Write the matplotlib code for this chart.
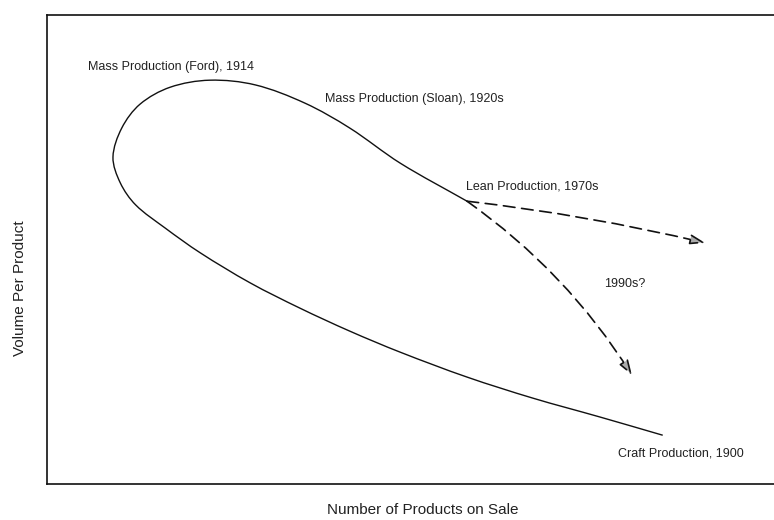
import matplotlib
matplotlib.use("Agg")
import matplotlib.pyplot as plt
import numpy as np
from matplotlib.path import Path
from matplotlib.patches import PathPatch

# curve, from craft production (1900) round to lean production (1970s)
curve_x = [84.0, 75.4, 66.3, 57.3, 48.2, 41.3, 34.5, 27.7, 20.9, 16.1, 12.1,
           10.0, 9.0, 10.2, 12.7, 16.8, 22.2, 28.4, 35.2, 41.3, 48.2, 57.3]
curve_y = [10.4, 14.3, 18.3, 22.8, 28.1, 32.6, 37.5, 42.9, 49.3, 54.6, 59.5,
           64.2, 69.7, 75.9, 81.0, 84.6, 86.1, 85.1, 81.2, 75.9, 68.4, 60.3]

# 1990s? projections from the lean point
arrow_start = (57.3, 60.3)
arrow_ends = [(89.8, 51.4), (79.8, 23.2)]
arrow_bend = [-0.03, -0.1]

labels = ["Mass Production (Ford), 1914", "Mass Production (Sloan), 1920s",
          "Lean Production, 1970s", "1990s?", "Craft Production, 1900"]
label_x = [5.6, 37.9, 57.2, 76.0, 77.9]
label_y = [88.9, 82.1, 63.5, 42.6, 6.6]

plt.rcParams['font.family'] = ['Liberation Sans', 'DejaVu Sans']


def smooth_path(ax, xs, ys):
    # bezier through the read points, tangents worked out in display space
    pts = ax.transData.transform(np.column_stack([xs, ys]))
    n = len(pts)
    d = np.linalg.norm(np.diff(pts, axis=0), axis=1)
    tang = np.zeros_like(pts)
    for i in range(n):
        if i == 0:
            tang[i] = (pts[1] - pts[0]) / d[0]
        elif i == n - 1:
            tang[i] = (pts[-1] - pts[-2]) / d[-1]
        else:
            tang[i] = (pts[i + 1] - pts[i - 1]) / (d[i - 1] + d[i])
    verts = [pts[0]]
    codes = [Path.MOVETO]
    for i in range(n - 1):
        verts += [pts[i] + tang[i] * d[i] / 3, pts[i + 1] - tang[i + 1] * d[i] / 3, pts[i + 1]]
        codes += [Path.CURVE4] * 3
    verts = ax.transData.inverted().transform(np.array(verts))
    return Path(verts, codes)


fig = plt.figure(figsize=(7.74, 5.2), dpi=100)
ax = fig.add_axes([47/774, 36/520, 733/774, 469/520])
ax.set_xlim(0, 100)
ax.set_ylim(0, 100)
ax.set_xticks([])
ax.set_yticks([])
for s in ax.spines.values():
    s.set_linewidth(1.2)
    s.set_color('#111111')

ax.add_patch(PathPatch(smooth_path(ax, curve_x, curve_y), fill=False,
                       ec='#111111', lw=1.0))

for end, rad in zip(arrow_ends, arrow_bend):
    ax.annotate('', xy=end, xytext=arrow_start,
                arrowprops=dict(arrowstyle='-|>,head_length=0.9,head_width=0.3',
                                linestyle=(0, (7, 4)), lw=1.2, color='#111111',
                                fc='#aaaaaa', shrinkA=0, shrinkB=0,
                                connectionstyle='arc3,rad=%s' % rad))

for t, x, y in zip(labels, label_x, label_y):
    ax.text(x, y, t, ha='left', va='center', fontsize=9, color='#222222')

fig.text(423/774, 1 - 510/520, 'Number of Products on Sale', ha='center', va='center',
         fontsize=11, color='#222222')
fig.text(20/774, 1 - 288/520, 'Volume Per Product', ha='center', va='center',
         rotation=90, fontsize=11, color='#222222')

fig.savefig('out.png', dpi=100)
